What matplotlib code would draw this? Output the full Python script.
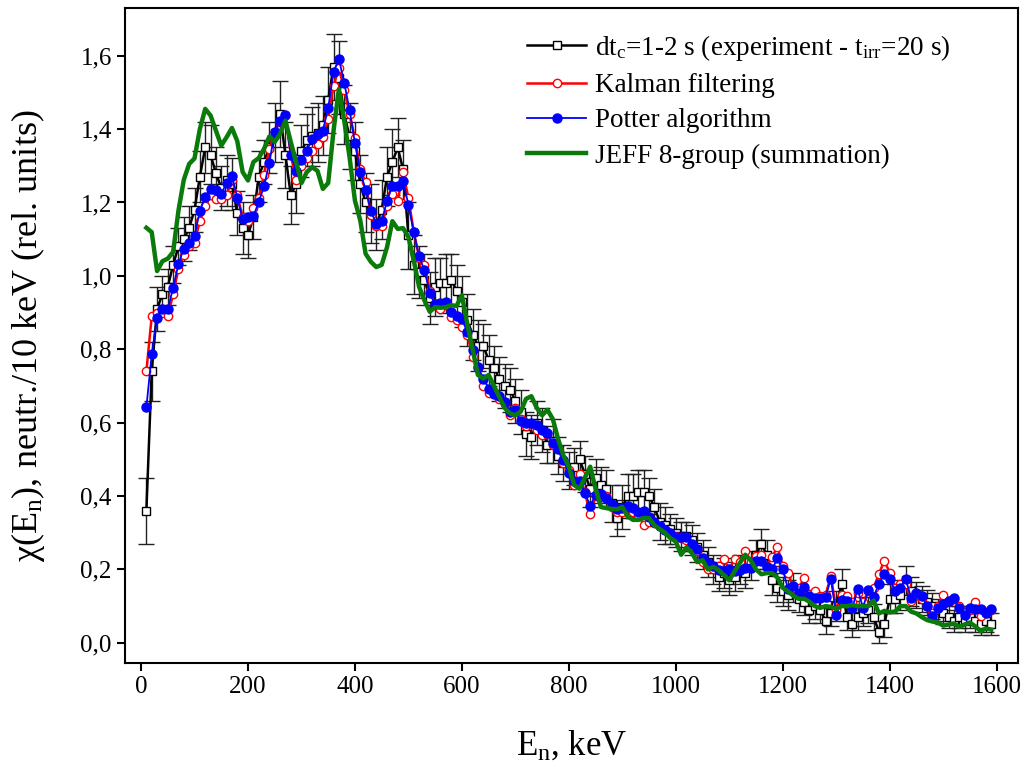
import numpy as np
import matplotlib
matplotlib.use("Agg")
from matplotlib import pyplot as plt
from matplotlib.ticker import FuncFormatter, MultipleLocator

# energy grid, keV
energy = list(range(10, 1600, 10))

# experiment dt_c = 1-2 s
expt = [0.36, 0.74, 0.91, 0.95, 0.97, 1.03, 1.08, 1.10, 1.13, 1.18,
        1.27, 1.35, 1.33, 1.28, 1.24, 1.26, 1.25, 1.17, 1.13, 1.11,
        1.16, 1.27, 1.31, 1.35, 1.39, 1.44, 1.33, 1.22, 1.25, 1.34,
        1.37, 1.38, 1.39, 1.41, 1.48, 1.57, 1.54, 1.44, 1.38, 1.34,
        1.25, 1.20, 1.17, 1.14, 1.18, 1.27, 1.31, 1.35, 1.29, 1.11,
        1.03, 1.01, 0.99, 0.94, 0.97, 0.98, 0.98, 0.99, 0.96, 0.93,
        0.88, 0.84, 0.81, 0.81, 0.77, 0.75, 0.72, 0.70, 0.69, 0.66,
        0.63, 0.57, 0.56, 0.60, 0.58, 0.54, 0.55, 0.51, 0.49, 0.47,
        0.48, 0.50, 0.46, 0.42, 0.45, 0.43, 0.42, 0.38, 0.34, 0.37,
        0.40, 0.40, 0.41, 0.41, 0.40, 0.37, 0.33, 0.32, 0.31, 0.30,
        0.29, 0.29, 0.28, 0.26, 0.24, 0.22, 0.20, 0.18, 0.19, 0.17,
        0.18, 0.20, 0.19, 0.21, 0.24, 0.27, 0.24, 0.17, 0.15, 0.14,
        0.13, 0.15, 0.12, 0.11, 0.09, 0.10, 0.09, 0.06, 0.08, 0.10,
        0.16, 0.07, 0.05, 0.07, 0.08, 0.09, 0.07, 0.03, 0.05, 0.12,
        0.12, 0.13, 0.17, 0.14, 0.13, 0.12, 0.11, 0.10, 0.09, 0.08,
        0.07, 0.06, 0.07, 0.06, 0.07, 0.06, 0.05, 0.06, 0.05]

expt_err = [0.09, 0.08, 0.06, 0.05, 0.05, 0.05, 0.05, 0.06, 0.06, 0.06,
            0.07, 0.07, 0.08, 0.07, 0.06, 0.07, 0.07, 0.06, 0.07, 0.06,
            0.06, 0.07, 0.06, 0.07, 0.08, 0.09, 0.09, 0.08, 0.08, 0.07,
            0.07, 0.08, 0.08, 0.08, 0.09, 0.09, 0.10, 0.08, 0.09, 0.08,
            0.08, 0.08, 0.08, 0.07, 0.08, 0.08, 0.09, 0.08, 0.08, 0.09,
            0.08, 0.07, 0.07, 0.07, 0.08, 0.07, 0.08, 0.07, 0.07, 0.07,
            0.07, 0.07, 0.07, 0.06, 0.07, 0.06, 0.06, 0.06, 0.06, 0.06,
            0.06, 0.06, 0.06, 0.06, 0.06, 0.05, 0.06, 0.05, 0.05, 0.05,
            0.05, 0.05, 0.05, 0.05, 0.05, 0.05, 0.05, 0.05, 0.05, 0.06,
            0.06, 0.06, 0.06, 0.06, 0.05, 0.05, 0.05, 0.05, 0.04, 0.04,
            0.04, 0.04, 0.04, 0.04, 0.04, 0.04, 0.04, 0.04, 0.04, 0.04,
            0.04, 0.04, 0.04, 0.04, 0.04, 0.04, 0.04, 0.04, 0.04, 0.04,
            0.04, 0.04, 0.035, 0.035, 0.035, 0.035, 0.035, 0.035, 0.035, 0.04,
            0.04, 0.035, 0.035, 0.035, 0.035, 0.035, 0.035, 0.03, 0.035, 0.04,
            0.04, 0.04, 0.04, 0.04, 0.035, 0.035, 0.035, 0.035, 0.03, 0.03,
            0.03, 0.03, 0.03, 0.03, 0.03, 0.03, 0.03, 0.03, 0.03]

kalman = [0.74, 0.89, 0.90, 0.90, 0.89, 0.95, 1.02, 1.056, 1.08, 1.09,
          1.15, 1.19, 1.22, 1.21, 1.21, 1.22, 1.26, 1.22, 1.16, 1.15,
          1.185, 1.212, 1.275, 1.346, 1.391, 1.42, 1.437, 1.33, 1.26, 1.30,
          1.32, 1.34, 1.36, 1.378, 1.428, 1.518, 1.566, 1.507, 1.44, 1.375,
          1.29, 1.255, 1.165, 1.135, 1.135, 1.19, 1.224, 1.203, 1.283, 1.212,
          1.12, 1.05, 1.029, 0.96, 0.922, 0.911, 0.92, 0.888, 0.88, 0.861,
          0.84, 0.78, 0.75, 0.70, 0.68, 0.68, 0.665, 0.65, 0.62, 0.64,
          0.61, 0.59, 0.595, 0.58, 0.565, 0.57, 0.54, 0.53, 0.49, 0.47,
          0.43, 0.46, 0.41, 0.35, 0.40, 0.40, 0.40, 0.37, 0.357, 0.357,
          0.37, 0.357, 0.348, 0.322, 0.33, 0.326, 0.318, 0.307, 0.30, 0.29,
          0.285, 0.28, 0.265, 0.25, 0.22, 0.20, 0.20, 0.21, 0.228, 0.20,
          0.228, 0.22, 0.25, 0.22, 0.237, 0.24, 0.21, 0.233, 0.262, 0.21,
          0.19, 0.15, 0.15, 0.176, 0.133, 0.14, 0.128, 0.13, 0.182, 0.09,
          0.13, 0.128, 0.11, 0.137, 0.11, 0.14, 0.15, 0.188, 0.224, 0.191,
          0.15, 0.16, 0.16, 0.113, 0.13, 0.12, 0.10, 0.08, 0.10, 0.131,
          0.115, 0.12, 0.10, 0.085, 0.09, 0.11, 0.074, 0.085, 0.09]

potter = [0.642, 0.786, 0.885, 0.91, 0.91, 0.967, 1.033, 1.074, 1.089, 1.109,
          1.177, 1.215, 1.238, 1.233, 1.223, 1.254, 1.272, 1.213, 1.155, 1.16,
          1.162, 1.201, 1.244, 1.308, 1.393, 1.423, 1.437, 1.328, 1.287, 1.317,
          1.341, 1.373, 1.387, 1.396, 1.457, 1.556, 1.591, 1.526, 1.452, 1.362,
          1.283, 1.235, 1.176, 1.142, 1.149, 1.205, 1.244, 1.244, 1.258, 1.194,
          1.119, 1.053, 1.015, 0.953, 0.922, 0.925, 0.928, 0.902, 0.89, 0.883,
          0.847, 0.797, 0.752, 0.72, 0.693, 0.679, 0.672, 0.657, 0.629, 0.634,
          0.604, 0.598, 0.60, 0.594, 0.58, 0.571, 0.545, 0.527, 0.498, 0.463,
          0.442, 0.44, 0.409, 0.373, 0.403, 0.405, 0.394, 0.377, 0.366, 0.368,
          0.374, 0.368, 0.357, 0.36, 0.344, 0.33, 0.318, 0.307, 0.298, 0.289,
          0.287, 0.287, 0.269, 0.255, 0.23, 0.217, 0.21, 0.199, 0.197, 0.20,
          0.196, 0.199, 0.203, 0.203, 0.224, 0.224, 0.207, 0.20, 0.23, 0.20,
          0.146, 0.155, 0.137, 0.153, 0.128, 0.122, 0.122, 0.124, 0.175, 0.076,
          0.117, 0.113, 0.094, 0.146, 0.096, 0.143, 0.126, 0.161, 0.188, 0.174,
          0.142, 0.149, 0.173, 0.123, 0.136, 0.128, 0.10, 0.073, 0.094, 0.105,
          0.113, 0.122, 0.094, 0.075, 0.094, 0.092, 0.091, 0.081, 0.091]

jeff = [1.131, 1.119, 1.013, 1.04, 1.047, 1.065, 1.178, 1.262, 1.305, 1.32,
        1.40, 1.455, 1.437, 1.396, 1.355, 1.378, 1.403, 1.367, 1.283, 1.26,
        1.31, 1.321, 1.346, 1.38, 1.365, 1.387, 1.423, 1.365, 1.31, 1.253,
        1.283, 1.296, 1.286, 1.237, 1.253, 1.396, 1.509, 1.423, 1.323, 1.205,
        1.151, 1.06, 1.038, 1.024, 1.03, 1.078, 1.149, 1.128, 1.13, 1.106,
        1.042, 0.97, 0.933, 0.902, 0.915, 0.913, 0.915, 0.92, 0.918, 0.947,
        0.87, 0.80, 0.73, 0.72, 0.73, 0.70, 0.67, 0.64, 0.625, 0.62,
        0.63, 0.665, 0.672, 0.64, 0.62, 0.635, 0.61, 0.555, 0.51, 0.48,
        0.43, 0.42, 0.45, 0.48, 0.42, 0.37, 0.367, 0.365, 0.364, 0.37,
        0.344, 0.335, 0.335, 0.34, 0.34, 0.32, 0.31, 0.30, 0.285, 0.276,
        0.24, 0.26, 0.245, 0.22, 0.225, 0.20, 0.207, 0.198, 0.185, 0.17,
        0.195, 0.218, 0.24, 0.225, 0.20, 0.187, 0.19, 0.19, 0.178, 0.15,
        0.14, 0.128, 0.12, 0.12, 0.112, 0.10, 0.095, 0.10, 0.098, 0.092,
        0.10, 0.10, 0.103, 0.10, 0.10, 0.10, 0.115, 0.08, 0.087, 0.083,
        0.085, 0.10, 0.10, 0.085, 0.08, 0.07, 0.062, 0.058, 0.055, 0.047,
        0.05, 0.053, 0.043, 0.05, 0.055, 0.045, 0.032, 0.039, 0.036]

plt.rcParams['font.family'] = ['Liberation Serif', 'DejaVu Serif']
plt.rcParams['mathtext.fontset'] = 'custom'
plt.rcParams['mathtext.rm'] = 'Liberation Serif'
plt.rcParams['mathtext.it'] = 'Liberation Serif:italic'

fig = plt.figure(figsize=(10.33, 7.67), dpi=100)
ax = fig.add_axes([0.121, 0.1356, 0.8645, 0.854])

ax.errorbar(energy, expt, yerr=expt_err, fmt='none', ecolor='#222222',
            elinewidth=1.0, capsize=6, capthick=1.0, zorder=1)
ax.plot(energy, expt, color='black', lw=1.8, marker='s', ms=5.5,
        mfc='white', mec='black', mew=1.0, zorder=2,
        label='dt$_\\mathrm{c}$=1-2 s (experiment - t$_\\mathrm{irr}$=20 s)')
ax.plot(energy, kalman, color='red', lw=1.8, marker='o', ms=6,
        mfc='white', mec='red', mew=1.0, zorder=3, label='Kalman filtering')
ax.plot(energy, potter, color='blue', lw=1.3, marker='o', ms=6.5,
        mfc='blue', mec='blue', zorder=4, label='Potter algorithm')
ax.plot(energy, jeff, color='#0a7a0a', lw=3.2, zorder=5,
        label='JEFF 8-group (summation)')

ax.set_xlim(-30, 1640)
ax.set_ylim(-0.055, 1.73)
ax.xaxis.set_major_locator(MultipleLocator(200))
ax.yaxis.set_major_locator(MultipleLocator(0.2))
ax.yaxis.set_major_formatter(FuncFormatter(lambda v, p: f"{v:.1f}".replace('.', ',')))
ax.tick_params(labelsize=18, width=1.5, length=6, direction='out')
for s in ax.spines.values():
    s.set_linewidth(1.5)

ax.set_xlabel('E$_\\mathrm{n}$, keV', fontsize=25, labelpad=22)
ax.set_ylabel('\u03c7(E$_\\mathrm{n}$), neutr./10 keV (rel. units)', fontsize=26, labelpad=24)

ax.legend(loc='upper left', bbox_to_anchor=(0.45, 0.962), frameon=False,
          borderpad=0, borderaxespad=0,
          fontsize=19.5, handlelength=2.2, handletextpad=0.3, labelspacing=0.38)

fig.savefig('out.png', dpi=100)
